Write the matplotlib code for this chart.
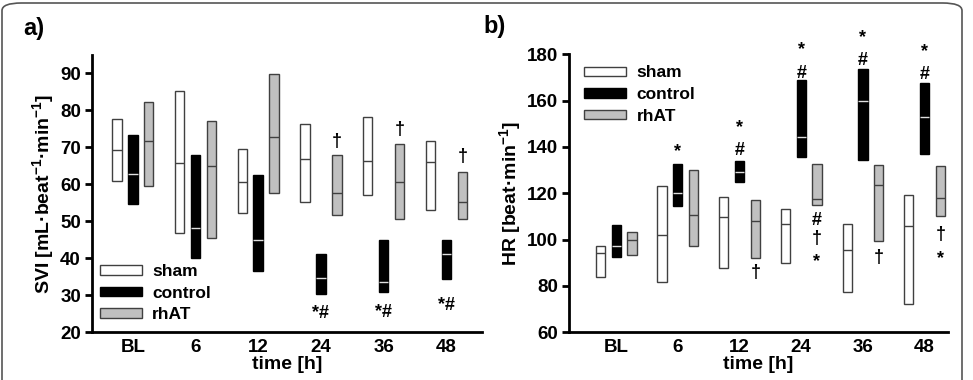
import matplotlib
matplotlib.use('Agg')
import matplotlib.pyplot as plt
from matplotlib.patches import Patch, FancyBboxPatch
import numpy as np

plt.rcParams['font.family'] = ['Liberation Sans', 'DejaVu Sans']
plt.rcParams['font.weight'] = 'bold'
plt.rcParams['mathtext.fontset'] = 'custom'
plt.rcParams['mathtext.bf'] = 'Liberation Sans:bold'
plt.rcParams['mathtext.rm'] = 'Liberation Sans:bold'
plt.rcParams['mathtext.default'] = 'bf'

cats = ['BL', '6', '12', '24', '36', '48']
groups = ['sham', 'control', 'rhAT']

# panel a: SVI, low / median / high of each box
sham_svi_lo = [61.0, 46.7, 52.2, 55.1, 57.0, 53.0]
sham_svi_med = [69.3, 65.7, 60.6, 66.8, 66.2, 65.9]
sham_svi_hi = [77.8, 85.2, 69.5, 76.2, 78.3, 71.7]
ctrl_svi_lo = [54.6, 40.1, 36.5, 30.3, 30.8, 34.3]
ctrl_svi_med = [62.7, 48.2, 44.9, 34.5, 33.6, 41.0]
ctrl_svi_hi = [73.3, 67.8, 62.4, 41.2, 45.0, 45.0]
rhat_svi_lo = [59.6, 45.4, 57.7, 51.7, 50.6, 50.6]
rhat_svi_med = [71.7, 64.9, 72.8, 57.6, 60.6, 55.1]
rhat_svi_hi = [82.3, 77.2, 89.9, 67.8, 70.9, 63.2]

# panel b: HR
sham_hr_lo = [83.8, 81.6, 87.8, 89.8, 77.6, 72.1]
sham_hr_med = [94.1, 102.0, 109.9, 106.9, 95.7, 105.8]
sham_hr_hi = [97.4, 123.0, 118.3, 113.2, 106.6, 119.1]
ctrl_hr_lo = [92.5, 114.4, 124.9, 135.5, 134.3, 137.0]
ctrl_hr_med = [97.4, 120.1, 129.1, 144.3, 160.0, 152.8]
ctrl_hr_hi = [106.2, 132.7, 134.0, 168.8, 173.8, 167.6]
rhat_hr_lo = [93.4, 97.3, 92.0, 114.8, 99.3, 110.2]
rhat_hr_med = [99.7, 110.5, 107.9, 117.4, 123.5, 117.9]
rhat_hr_hi = [103.3, 130.1, 117.0, 132.7, 132.4, 131.9]

# significance marks: (category index, group index, symbol, y of glyph centre)
svi_marks = [(3, 2, '\u2020', 71.9), (4, 2, '\u2020', 75.0), (5, 2, '\u2020', 67.7),
             (3, 1, '*#', 25.5), (4, 1, '*#', 25.7), (5, 1, '*#', 27.6)]
hr_marks = [(1, 1, '*', 140.6),
            (2, 1, '*', 150.9), (2, 1, '#', 139.4), (2, 2, '\u2020', 86.2),
            (3, 1, '*', 184.7), (3, 1, '#', 172.8),
            (3, 2, '#', 109.2), (3, 2, '\u2020', 101.0), (3, 2, '*', 93.0),
            (4, 1, '*', 189.8), (4, 1, '#', 178.3), (4, 2, '\u2020', 92.6),
            (5, 1, '*', 183.7), (5, 1, '#', 172.2),
            (5, 2, '\u2020', 102.7), (5, 2, '*', 94.5)]

faces = ['white', 'black', '#c0c0c0']
edges = ['#404040', 'black', '#404040']
medcols = ['#404040', '#e0e0e0', '#404040']
offs = [-0.255, 0.0, 0.255]
width = 0.15
markfs = 13
# vertical offset (fraction of font size) from baseline to glyph centre
glyph_mid = {'*': 0.57, '#': 0.36, '\u2020': 0.30, '*#': 0.36}


def draw_panel(ax, los, meds, his, marks):
    x = np.arange(len(cats))
    for g in range(3):
        lo = np.array(los[g]); hi = np.array(his[g])
        ax.bar(x + offs[g], hi - lo, width, bottom=lo, color=faces[g],
               edgecolor=edges[g], linewidth=1.0, zorder=2)
        ax.hlines(meds[g], x + offs[g] - width / 2, x + offs[g] + width / 2,
                  colors=medcols[g], linewidth=1.0, zorder=3)
    for ci, gi, s, yv in marks:
        ax.annotate(s, (ci + offs[gi], yv), xytext=(0, -glyph_mid[s] * markfs),
                    textcoords='offset points', ha='center', va='baseline',
                    fontsize=markfs, fontweight='bold', annotation_clip=False)
    ax.set_xticks(x)
    ax.set_xticklabels(cats)
    ax.spines['top'].set_visible(False)
    ax.spines['right'].set_visible(False)
    ax.spines['left'].set_linewidth(2)
    ax.spines['bottom'].set_linewidth(2)
    ax.tick_params(axis='x', length=0, labelsize=13.5, pad=5)
    ax.tick_params(axis='y', length=5, width=2, labelsize=13.5, pad=3)
    ax.set_xlabel('time [h]', fontsize=14, fontweight='bold', labelpad=0)
    handles = [Patch(facecolor=faces[g], edgecolor=edges[g], label=groups[g]) for g in range(3)]
    return handles


fig = plt.figure(figsize=(9.73, 3.80), dpi=100)

leg_kw = dict(frameon=False, fontsize=12.5, handlelength=2.4, handleheight=0.45,
              labelspacing=0.38, handletextpad=0.6, borderaxespad=0, borderpad=0.0)

ax1 = fig.add_axes([0.0946, 0.1263, 0.4008, 0.729])
h = draw_panel(ax1, [sham_svi_lo, ctrl_svi_lo, rhat_svi_lo],
               [sham_svi_med, ctrl_svi_med, rhat_svi_med],
               [sham_svi_hi, ctrl_svi_hi, rhat_svi_hi], svi_marks)
ax1.set_xlim(-0.65, 5.57)
ax1.set_ylim(20, 95)
ax1.set_yticks(np.arange(20, 91, 10))
ax1.set_ylabel('SVI [mL\u00b7beat$^{-1}$\u00b7min$^{-1}$]', fontsize=14,
               fontweight='bold', labelpad=3)
ax1.legend(handles=h, loc='lower left', bbox_to_anchor=(0.02, 0.035), **leg_kw)

ax2 = fig.add_axes([0.5851, 0.1255, 0.3892, 0.7315])
h = draw_panel(ax2, [sham_hr_lo, ctrl_hr_lo, rhat_hr_lo],
               [sham_hr_med, ctrl_hr_med, rhat_hr_med],
               [sham_hr_hi, ctrl_hr_hi, rhat_hr_hi], hr_marks)
ax2.set_xlim(-0.76, 5.38)
ax2.set_ylim(60, 180)
ax2.set_yticks(np.arange(60, 181, 20))
ax2.set_ylabel('HR [beat\u00b7min$^{-1}$]', fontsize=14, fontweight='bold', labelpad=3)
ax2.legend(handles=h, loc='upper left', bbox_to_anchor=(0.04, 0.96), **leg_kw)

fig.text(23 / 973, 1 - 28 / 380, 'a)', fontsize=17, fontweight='bold', va='center')
fig.text(483 / 973, 1 - 26 / 380, 'b)', fontsize=17, fontweight='bold', va='center')

frame = FancyBboxPatch((2 / 973, -0.1), 960 / 973, 1.1 - 3 / 380,
                       boxstyle='round,pad=0,rounding_size=0.02',
                       transform=fig.transFigure, facecolor='none',
                       edgecolor='#555555', linewidth=1.2, clip_on=False)
fig.patches.append(frame)

fig.savefig('out.png', dpi=100)
